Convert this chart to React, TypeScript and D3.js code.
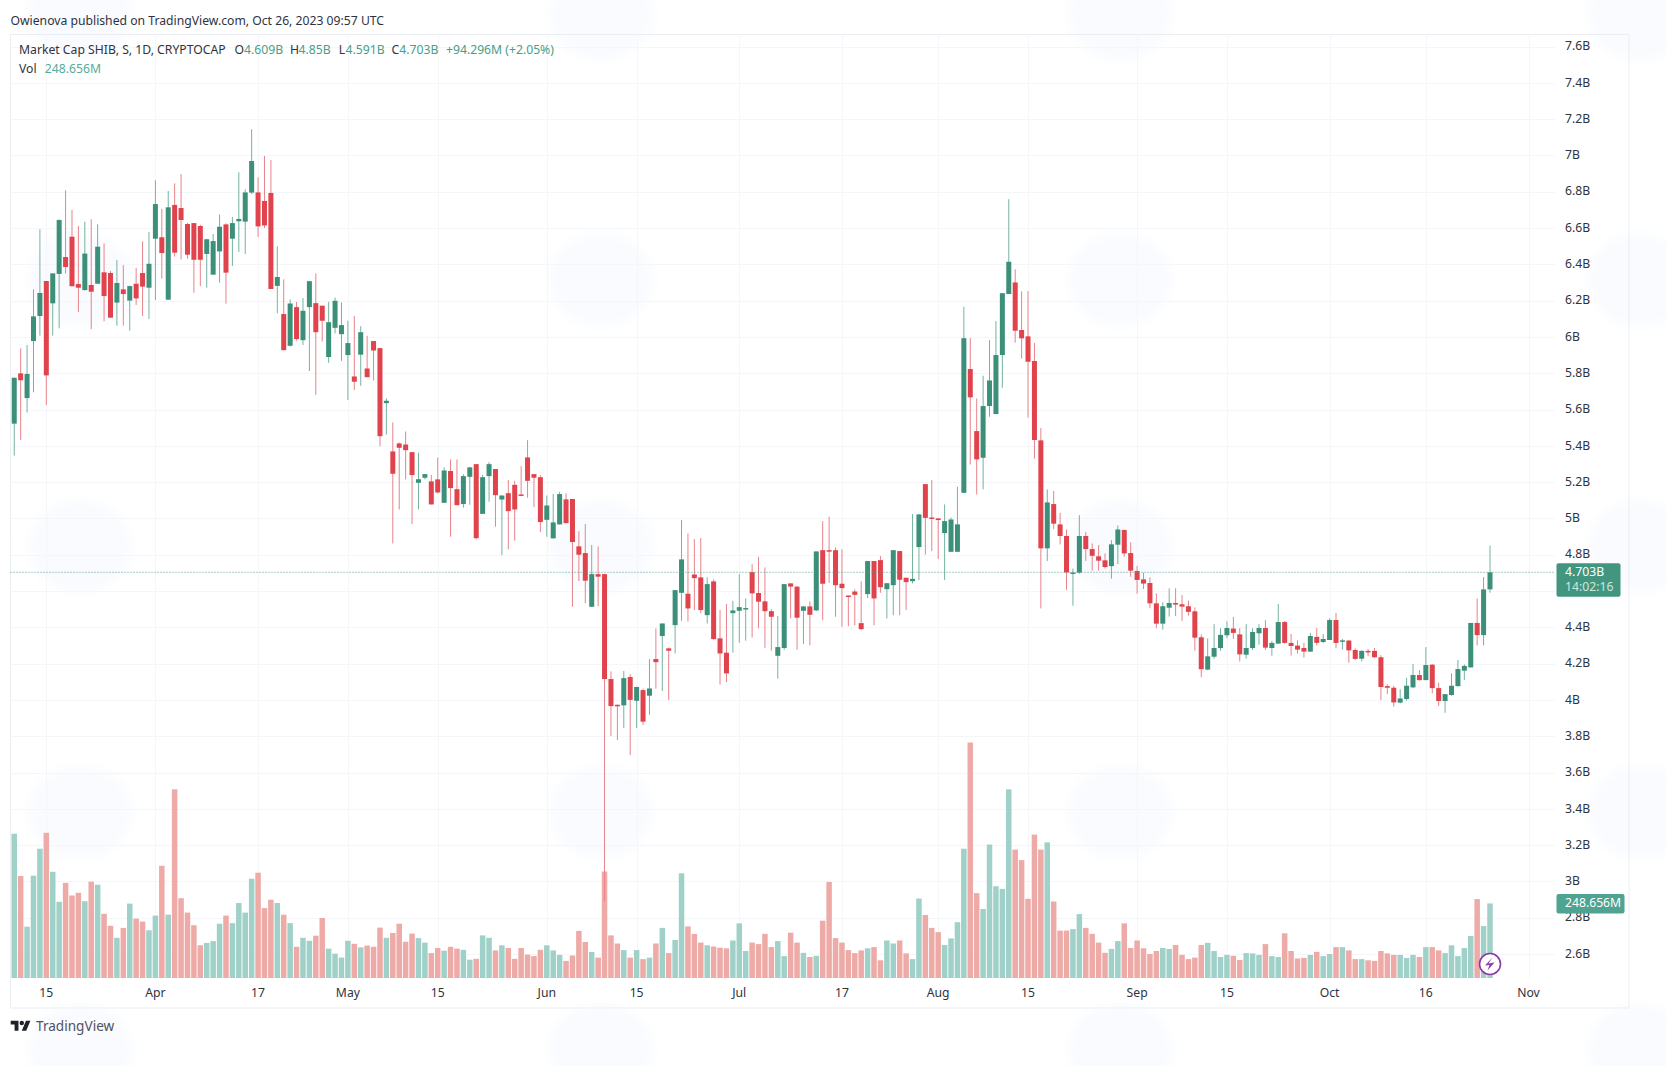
import React, { useEffect, useRef } from 'react';
import * as d3 from 'd3';

const startDate = new Date(Date.UTC(2023, 2, 10));

// daily candles in billions, Mar 10 .. Oct 26
const opens = [
  5.522, 5.799, 5.663, 5.977, 6.115, 6.308, 6.185, 6.347, 6.44, 6.552,
  6.291, 6.258, 6.286, 6.293, 6.356, 6.352, 6.189, 6.262, 6.2, 6.293,
  6.352, 6.271, 6.541, 6.549, 6.205, 6.727, 6.71, 6.622, 6.627, 6.611,
  6.457, 6.343, 6.471, 6.62, 6.541, 6.637, 6.635, 6.795, 6.796, 6.749,
  6.793, 6.281, 6.126, 5.951, 6.164, 5.982, 6.164, 6.186, 6.172, 5.889,
  6.05, 6.015, 5.9, 5.782, 5.902, 5.826, 5.977, 5.938, 5.635, 5.369,
  5.413, 5.407, 5.365, 5.196, 5.224, 5.204, 5.215, 5.086, 5.261, 5.161,
  5.079, 5.229, 5.299, 5.025, 5.233, 5.272, 5.104, 5.139, 5.185, 5.132,
  5.336, 5.244, 5.227, 4.992, 4.89, 4.967, 5.105, 5.107, 4.846, 4.809,
  4.513, 4.693, 4.693, 4.115, 3.973, 3.97, 4.126, 3.995, 4.054, 4.023,
  4.225, 4.352, 4.284, 4.412, 4.59, 4.585, 4.691, 4.675, 4.467, 4.653,
  4.339, 4.26, 4.478, 4.491, 4.5, 4.704, 4.589, 4.543, 4.489, 4.243,
  4.286, 4.642, 4.624, 4.491, 4.515, 4.493, 4.825, 4.825, 4.825, 4.64,
  4.575, 4.597, 4.423, 4.583, 4.765, 4.77, 4.61, 4.632, 4.82, 4.673,
  4.654, 4.842, 5.189, 5.005, 5.0, 4.919, 4.816, 4.816, 5.141, 5.823,
  5.481, 5.334, 5.619, 5.575, 5.9, 6.236, 6.3, 6.038, 6.003, 5.867,
  5.43, 4.835, 5.079, 4.967, 4.903, 4.701, 4.701, 4.903, 4.831, 4.791,
  4.769, 4.737, 4.855, 4.936, 4.809, 4.71, 4.664, 4.644, 4.532, 4.42,
  4.508, 4.534, 4.527, 4.516, 4.488, 4.345, 4.167, 4.238, 4.286, 4.356,
  4.393, 4.361, 4.249, 4.286, 4.367, 4.396, 4.286, 4.31, 4.429, 4.314,
  4.299, 4.286, 4.266, 4.347, 4.319, 4.33, 4.44, 4.323, 4.327, 4.275,
  4.227, 4.27, 4.27, 4.235, 4.076, 4.067, 3.985, 4.005, 4.069, 4.137,
  4.109, 4.194, 4.065, 3.994, 4.027, 4.076, 4.161, 4.179, 4.424, 4.357,
  4.609,
];

const highs = [
  5.775, 5.937, 5.955, 6.262, 6.593, 6.308, 6.35, 6.648, 6.808, 6.699,
  6.611, 6.635, 6.648, 6.62, 6.515, 6.363, 6.424, 6.396, 6.282, 6.38,
  6.526, 6.578, 6.863, 6.705, 6.804, 6.846, 6.897, 6.629, 6.627, 6.618,
  6.541, 6.567, 6.675, 6.626, 6.661, 6.907, 6.813, 7.144, 6.879, 6.997,
  6.975, 6.5, 6.317, 6.206, 6.193, 6.214, 6.307, 6.35, 6.172, 6.193,
  6.217, 6.19, 6.089, 6.115, 6.059, 6.006, 5.977, 5.94, 5.661, 5.529,
  5.418, 5.479, 5.365, 5.362, 5.244, 5.24, 5.336, 5.281, 5.325, 5.325,
  5.244, 5.284, 5.299, 5.24, 5.31, 5.272, 5.128, 5.211, 5.207, 5.288,
  5.431, 5.244, 5.238, 5.126, 5.134, 5.147, 5.138, 5.107, 4.93, 4.969,
  4.853, 4.846, 4.693, 4.157, 3.975, 4.159, 4.142, 4.073, 4.062, 4.225,
  4.394, 4.421, 4.289, 4.605, 4.991, 4.917, 4.886, 4.892, 4.675, 4.664,
  4.495, 4.528, 4.545, 4.693, 4.559, 4.747, 4.789, 4.73, 4.5, 4.462,
  4.638, 4.642, 4.627, 4.517, 4.543, 4.818, 4.985, 5.009, 4.84, 4.829,
  4.575, 4.609, 4.654, 4.765, 4.766, 4.792, 4.643, 4.825, 4.82, 4.673,
  5.024, 5.022, 5.189, 5.211, 5.002, 5.077, 5.005, 5.174, 6.166, 5.993,
  5.661, 5.786, 5.982, 6.087, 6.241, 6.759, 6.372, 6.251, 6.252, 5.966,
  5.498, 5.16, 5.151, 5.031, 4.939, 4.724, 5.018, 4.926, 4.862, 4.853,
  4.807, 4.88, 4.961, 4.939, 4.868, 4.738, 4.701, 4.675, 4.587, 4.538,
  4.615, 4.615, 4.578, 4.547, 4.51, 4.361, 4.339, 4.417, 4.395, 4.433,
  4.457, 4.395, 4.417, 4.395, 4.417, 4.439, 4.325, 4.529, 4.435, 4.363,
  4.328, 4.314, 4.369, 4.396, 4.363, 4.45, 4.479, 4.336, 4.33, 4.284,
  4.273, 4.281, 4.286, 4.246, 4.086, 4.078, 4.058, 4.122, 4.198, 4.165,
  4.291, 4.198, 4.095, 4.032, 4.146, 4.22, 4.196, 4.424, 4.559, 4.677,
  4.85,
];

const lows = [
  5.346, 5.432, 5.583, 5.695, 6.007, 5.625, 6.007, 6.047, 6.35, 6.279,
  6.137, 6.255, 6.043, 6.293, 6.086, 6.106, 6.062, 6.062, 6.034, 6.176,
  6.115, 6.099, 6.203, 6.321, 6.205, 6.442, 6.427, 6.431, 6.244, 6.28,
  6.271, 6.343, 6.299, 6.183, 6.391, 6.468, 6.457, 6.787, 6.55, 6.6,
  6.264, 6.13, 5.927, 5.947, 5.979, 5.955, 5.812, 5.681, 5.975, 5.857,
  6.019, 5.868, 5.652, 5.707, 5.731, 5.778, 5.76, 5.398, 5.461, 4.862,
  5.049, 5.215, 4.97, 5.049, 5.215, 5.077, 5.137, 5.086, 4.899, 5.073,
  5.059, 5.075, 4.884, 5.025, 5.092, 4.954, 4.798, 4.829, 4.877, 5.128,
  5.114, 5.062, 4.924, 4.899, 4.89, 4.967, 4.973, 4.513, 4.655, 4.532,
  4.513, 4.517, 2.888, 3.801, 3.779, 3.845, 3.696, 3.845, 3.861, 3.918,
  4.062, 4.049, 3.999, 4.256, 4.436, 4.432, 4.495, 4.477, 4.421, 4.332,
  4.084, 4.098, 4.26, 4.315, 4.326, 4.343, 4.394, 4.287, 4.271, 4.117,
  4.276, 4.449, 4.276, 4.308, 4.3, 4.489, 4.438, 4.645, 4.458, 4.403,
  4.406, 4.41, 4.384, 4.561, 4.41, 4.59, 4.449, 4.467, 4.467, 4.495,
  4.642, 4.66, 4.801, 4.82, 4.776, 4.66, 4.816, 4.816, 5.141, 5.297,
  5.132, 5.16, 5.56, 5.575, 5.72, 6.236, 5.968, 5.881, 5.555, 5.329,
  4.504, 4.765, 4.941, 4.857, 4.607, 4.519, 4.695, 4.765, 4.712, 4.712,
  4.724, 4.668, 4.748, 4.789, 4.678, 4.585, 4.611, 4.505, 4.395, 4.387,
  4.459, 4.462, 4.435, 4.464, 4.271, 4.125, 4.163, 4.227, 4.271, 4.339,
  4.336, 4.211, 4.227, 4.275, 4.304, 4.275, 4.244, 4.31, 4.31, 4.244,
  4.255, 4.233, 4.264, 4.299, 4.314, 4.33, 4.286, 4.277, 4.205, 4.22,
  4.211, 4.242, 4.231, 3.998, 4.032, 3.963, 3.981, 3.996, 4.064, 4.106,
  4.109, 4.036, 3.966, 3.929, 4.023, 4.073, 4.109, 4.179, 4.3, 4.3,
  4.591,
];

const closes = [
  5.775, 5.761, 5.796, 6.113, 6.242, 5.788, 6.35, 6.644, 6.385, 6.279,
  6.271, 6.459, 6.249, 6.497, 6.225, 6.106, 6.297, 6.236, 6.28, 6.212,
  6.277, 6.403, 6.732, 6.462, 6.714, 6.464, 6.644, 6.453, 6.425, 6.425,
  6.538, 6.528, 6.607, 6.354, 6.627, 6.65, 6.796, 6.969, 6.609, 6.614,
  6.264, 6.33, 5.927, 6.184, 5.988, 6.144, 6.307, 6.026, 6.089, 6.081,
  6.199, 6.065, 5.966, 5.753, 6.026, 5.778, 5.925, 5.453, 5.648, 5.246,
  5.389, 5.376, 5.239, 5.216, 5.244, 5.077, 5.143, 5.264, 5.167, 5.073,
  5.233, 5.281, 4.891, 5.227, 5.299, 5.128, 5.126, 5.04, 5.049, 5.13,
  5.207, 5.224, 4.98, 5.071, 4.978, 5.134, 4.974, 4.87, 4.8, 4.657,
  4.693, 4.679, 4.115, 3.966, 3.97, 4.12, 4.0, 4.071, 3.88, 4.063,
  4.208, 4.421, 4.271, 4.605, 4.774, 4.504, 4.671, 4.495, 4.638, 4.335,
  4.256, 4.146, 4.493, 4.511, 4.506, 4.587, 4.541, 4.489, 4.458, 4.291,
  4.638, 4.624, 4.453, 4.515, 4.469, 4.818, 4.64, 4.822, 4.632, 4.616,
  4.572, 4.579, 4.39, 4.765, 4.559, 4.621, 4.643, 4.825, 4.662, 4.649,
  4.667, 5.022, 5.003, 4.998, 4.991, 4.985, 4.994, 4.967, 5.993, 5.667,
  5.325, 5.619, 5.76, 5.9, 6.241, 6.414, 6.034, 5.992, 5.863, 5.432,
  4.835, 5.088, 4.971, 4.903, 4.702, 4.702, 4.903, 4.831, 4.794, 4.767,
  4.732, 4.857, 4.939, 4.807, 4.712, 4.661, 4.641, 4.532, 4.42, 4.516,
  4.534, 4.525, 4.514, 4.485, 4.343, 4.169, 4.24, 4.286, 4.358, 4.396,
  4.369, 4.251, 4.286, 4.374, 4.396, 4.288, 4.314, 4.429, 4.314, 4.297,
  4.277, 4.266, 4.352, 4.314, 4.336, 4.44, 4.314, 4.328, 4.273, 4.226,
  4.27, 4.266, 4.235, 4.071, 4.067, 3.986, 4.008, 4.078, 4.137, 4.109,
  4.192, 4.065, 3.994, 4.032, 4.078, 4.17, 4.187, 4.424, 4.357, 4.609,
  4.703,
];

// volume in millions
const volumes = [
  481, 340, 171, 341, 431, 484, 354, 254, 317, 275,
  284, 256, 321, 311, 214, 174, 134, 167, 248, 198,
  188, 159, 208, 374, 211, 629, 266, 218, 176, 109,
  117, 123, 181, 208, 183, 250, 218, 331, 351, 233,
  261, 250, 211, 183, 104, 134, 124, 141, 200, 98,
  81, 68, 124, 114, 102, 108, 104, 168, 134, 150,
  181, 121, 148, 133, 118, 83, 100, 91, 104, 98,
  94, 61, 64, 142, 134, 92, 109, 100, 64, 100,
  78, 73, 94, 109, 92, 77, 57, 75, 157, 120,
  87, 68, 355, 142, 115, 93, 68, 93, 63, 68,
  115, 167, 83, 127, 349, 172, 147, 118, 109, 105,
  101, 99, 125, 182, 90, 118, 113, 147, 103, 123,
  73, 151, 118, 84, 70, 74, 191, 320, 133, 118,
  93, 83, 92, 99, 103, 59, 125, 115, 125, 82,
  63, 265, 210, 167, 153, 110, 132, 186, 431, 785,
  283, 230, 445, 306, 297, 629, 428, 393, 264, 478,
  428, 452, 255, 158, 158, 163, 213, 167, 147, 118,
  84, 97, 123, 182, 100, 125, 99, 80, 90, 100,
  97, 110, 77, 63, 68, 110, 117, 90, 70, 77,
  74, 60, 83, 82, 77, 113, 73, 70, 149, 90,
  65, 67, 77, 87, 73, 80, 103, 103, 92, 63,
  63, 59, 57, 90, 82, 77, 77, 67, 77, 70,
  103, 103, 92, 83, 109, 73, 100, 140, 263, 173,
  248.656,
];

const priceTicks = [7.6, 7.4, 7.2, 7, 6.8, 6.6, 6.4, 6.2, 6, 5.8, 5.6, 5.4, 5.2, 5, 4.8, 4.6, 4.4, 4.2, 4, 3.8, 3.6, 3.4, 3.2, 3, 2.8, 2.6];
const hiddenPriceLabels = [4.6];
const timeTicks: [number, number, string][] = [
  [2, 15, '15'],
  [3, 1, 'Apr'],
  [3, 17, '17'],
  [4, 1, 'May'],
  [4, 15, '15'],
  [5, 1, 'Jun'],
  [5, 15, '15'],
  [6, 1, 'Jul'],
  [6, 17, '17'],
  [7, 1, 'Aug'],
  [7, 15, '15'],
  [8, 1, 'Sep'],
  [8, 15, '15'],
  [9, 1, 'Oct'],
  [9, 16, '16'],
  [10, 1, 'Nov'],
];
const legendParts: [string, string][] = [
  ['O', '4.609B'],
  ['H', '4.85B'],
  ['L', '4.591B'],
  ['C', '4.703B'],
];
const lastPrice = 4.703;
const lastVolume = 248.656;

const watermarkX = [80, 601, 1120, 1640];
const watermarkY = [14, 280, 546, 812, 1050];

const GREEN = '#3c9079';
const RED = '#e0434c';
const GREEN_WICK = '#74b3a1';
const RED_WICK = '#e8838a';
const GREEN_VOL = '#a0d1c9';
const RED_VOL = '#eeaaa6';
const TAG = '#42967f';
const FONT = "'Noto Sans', sans-serif";
const TEXT_SIZE = 12.2;

const App: React.FC = () => {
  const svgRef = useRef<SVGSVGElement | null>(null);

  useEffect(() => {
    const svg = d3.select(svgRef.current);
    svg.selectAll('*').remove();

    const width = 1666;
    const height = 1066;
    const frame = { left: 10.5, top: 34.5, right: 1629, bottom: 1008 };
    const paneRight = 1555;
    const paneBottom = 978;

    const x = d3
      .scaleUtc()
      .domain([new Date(Date.UTC(2023, 3, 1)), new Date(Date.UTC(2023, 10, 1))])
      .range([155.4, 1528.5]);
    const y = d3.scaleLinear().domain([2.6, 7.6]).range([954, 46.5]);
    const yVol = d3.scaleLinear().domain([0, 800]).range([paneBottom, paneBottom - 240]);

    const candles = opens.map((o, i) => ({
      date: d3.utcDay.offset(startDate, i),
      o,
      h: highs[i],
      l: lows[i],
      c: closes[i],
      v: volumes[i],
      up: closes[i] >= o,
    }));

    svg.append('rect').attr('width', width).attr('height', height).attr('fill', '#ffffff');

    // faint tiled watermark behind everything
    const defs = svg.append('defs');
    defs
      .append('filter')
      .attr('id', 'soft')
      .append('feGaussianBlur')
      .attr('stdDeviation', 6);
    const marks = svg.append('g').attr('fill', '#f9fbfe').attr('filter', 'url(#soft)');
    watermarkX.forEach(wx => {
      watermarkY.forEach(wy => {
        marks.append('ellipse').attr('cx', wx).attr('cy', wy).attr('rx', 52).attr('ry', 46);
      });
    });

    svg
      .append('rect')
      .attr('x', frame.left)
      .attr('y', frame.top)
      .attr('width', frame.right - frame.left)
      .attr('height', frame.bottom - frame.top)
      .attr('fill', 'none')
      .attr('stroke', '#eaeef3');

    const grid = svg.append('g').attr('stroke', '#f5f6f9');
    priceTicks.forEach(t => {
      grid
        .append('line')
        .attr('x1', frame.left)
        .attr('x2', paneRight)
        .attr('y1', Math.round(y(t)) + 0.5)
        .attr('y2', Math.round(y(t)) + 0.5);
    });
    const tickDate = (m: number, d: number) => new Date(Date.UTC(2023, m, d));
    timeTicks.forEach(([m, d]) => {
      const px = Math.round(x(tickDate(m, d))) + 0.5;
      grid.append('line').attr('x1', px).attr('x2', px).attr('y1', frame.top).attr('y2', paneBottom);
    });

    svg
      .append('g')
      .selectAll('rect')
      .data(candles)
      .enter()
      .append('rect')
      .attr('x', d => x(d.date) - 2.75)
      .attr('y', d => yVol(d.v))
      .attr('width', 5.5)
      .attr('height', d => yVol(0) - yVol(d.v))
      .attr('fill', d => (d.up ? GREEN_VOL : RED_VOL));

    svg
      .append('g')
      .selectAll('line')
      .data(candles)
      .enter()
      .append('line')
      .attr('x1', d => x(d.date))
      .attr('x2', d => x(d.date))
      .attr('y1', d => y(d.h))
      .attr('y2', d => y(d.l))
      .attr('stroke', d => (d.up ? GREEN_WICK : RED_WICK))
      .attr('stroke-width', 1);

    svg
      .append('g')
      .selectAll('rect')
      .data(candles)
      .enter()
      .append('rect')
      .attr('x', d => x(d.date) - 2.5)
      .attr('y', d => y(Math.max(d.o, d.c)))
      .attr('width', 5)
      .attr('height', d => Math.max(1.5, Math.abs(y(d.o) - y(d.c))))
      .attr('fill', d => (d.up ? GREEN : RED));

    svg
      .append('line')
      .attr('x1', frame.left)
      .attr('x2', paneRight)
      .attr('y1', y(lastPrice))
      .attr('y2', y(lastPrice))
      .attr('stroke', '#4f9d8a')
      .attr('stroke-dasharray', '1 2');

    const text = (
      tx: number,
      ty: number,
      s: string,
      fill: string,
      size = TEXT_SIZE,
      anchor = 'start',
    ) =>
      svg
        .append('text')
        .attr('x', tx)
        .attr('y', ty)
        .attr('fill', fill)
        .attr('font-family', FONT)
        .attr('font-size', size)
        .attr('text-anchor', anchor)
        .attr('dominant-baseline', 'middle')
        .text(s);

    priceTicks
      .filter(t => !hiddenPriceLabels.includes(t))
      .forEach(t => text(1565, y(t) + 0.5, `${t}B`, '#2f333e'));

    timeTicks.forEach(([m, d, label]) => {
      text(x(tickDate(m, d)), 993.5, label, '#2f333e', TEXT_SIZE, 'middle');
    });

    text(10.5, 21.5, 'Owienova published on TradingView.com, Oct 26, 2023 09:57 UTC', '#2f333e');
    text(19, 50.5, 'Market Cap SHIB, S, 1D, CRYPTOCAP', '#2f333e');
    const legendX = [234.6, 290, 338.7, 391.5];
    const legendValueX = [244, 298.5, 345.5, 399.3];
    legendParts.forEach(([k, v], i) => {
      text(legendX[i], 50.5, k, '#2f333e');
      text(legendValueX[i], 50.5, v, '#46a08a');
    });
    text(446, 50.5, '+94.296M (+2.05%)', '#46a08a');
    text(19, 69.5, 'Vol', '#2f333e');
    text(44.8, 69.5, `${lastVolume}M`, '#58ab98');

    // last price and volume tags on the axis
    const priceY = y(lastPrice);
    svg
      .append('rect')
      .attr('x', 1556.5)
      .attr('y', priceY - 9)
      .attr('width', 64)
      .attr('height', 33.5)
      .attr('rx', 2)
      .attr('fill', TAG);
    text(1565, priceY + 0.5, `${lastPrice}B`, '#ffffff');
    text(1565, priceY + 15.5, '14:02:16', '#cfe6df');

    const volY = yVol(lastVolume);
    svg
      .append('rect')
      .attr('x', 1556.5)
      .attr('y', volY - 9.5)
      .attr('width', 68)
      .attr('height', 19.5)
      .attr('rx', 2)
      .attr('fill', '#4ea391');
    text(1565, volY + 0.5, `${lastVolume}M`, '#ffffff');

    // lightning badge under the last bar
    const badge = svg.append('g').attr('transform', `translate(${x(candles[candles.length - 1].date)},964)`);
    badge.append('circle').attr('r', 10.5).attr('fill', '#ffffff').attr('stroke', '#8a3ba8').attr('stroke-width', 1.6);
    badge.append('path').attr('d', 'M2.5 -6.5 L-1.5 -0.5 L4.5 -1.5 L-2.5 6.5 L-0.5 1 L-5 1.5 Z').attr('fill', '#8a3ba8');

    // TradingView logo
    const logo = svg.append('g').attr('transform', 'translate(10.7,1018.5) scale(0.555)').attr('fill', '#1f222b');
    logo.append('path').attr('d', 'M14 22H7V11H0V4h14v18ZM28 22h-8l7.5-18h8L28 22Z');
    logo.append('circle').attr('cx', 20).attr('cy', 8).attr('r', 4);
    text(36, 1027.5, 'TradingView', '#50535e', 13.6);
  }, []);

  return (
    <div>
      <svg
        ref={svgRef}
        width={1666}
        height={1066}
        style={{ position: 'absolute', left: 0, top: 0, display: 'block' }}
      ></svg>
    </div>
  );
};

export default App;
